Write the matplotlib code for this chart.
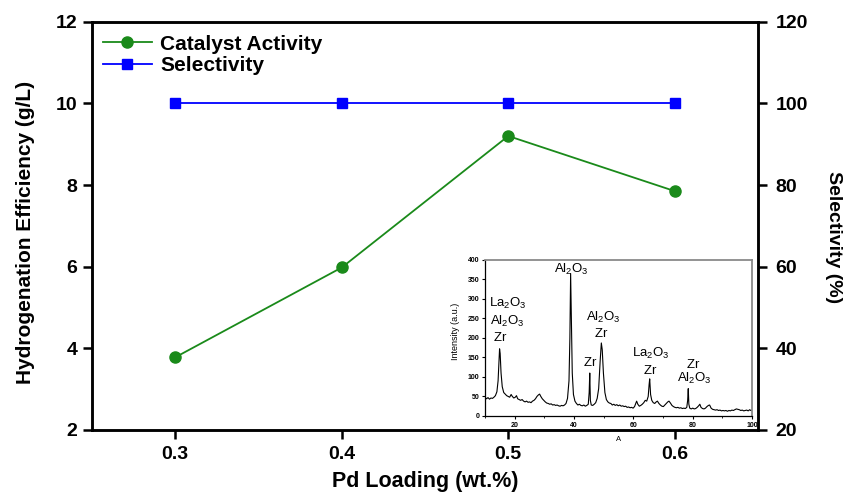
import matplotlib
matplotlib.use("Agg")
import matplotlib.pyplot as plt

plt.rcParams['font.family'] = ['Liberation Sans', 'DejaVu Sans']
plt.rcParams['mathtext.default'] = 'regular'

# Main data: Pd loading vs. activity / selectivity
pd_loading = [0.3, 0.4, 0.5, 0.6]
catalyst_activity = [3.78, 5.98, 9.20, 7.85]   # g/L
selectivity = [100, 100, 100, 100]             # %

x_ticks = [0.3, 0.4, 0.5, 0.6]
left_ticks = [2, 4, 6, 8, 10, 12]
right_ticks = [20, 40, 60, 80, 100, 120]

# XRD pattern of the catalyst (2-theta, intensity)
two_theta = [
    10.0, 10.5, 11.0, 11.5, 12.0, 12.5, 13.0, 13.5, 14.0, 14.4, 14.7, 14.9, 15.1, 15.4,
    15.8, 16.3, 16.8, 17.3, 17.8, 18.3, 18.8, 19.2, 19.7, 20.2, 20.6, 21.0, 21.5, 22.0,
    22.5, 23.0, 23.5, 24.0, 24.5, 25.0, 25.5, 26.0, 26.5, 27.0, 27.5, 28.0, 28.4, 28.8,
    29.3, 29.8, 30.3, 30.8, 31.3, 31.8, 32.3, 32.8, 33.3, 33.8, 34.3, 34.8, 35.3, 35.8,
    36.3, 36.8, 37.3, 37.8, 38.3, 38.6, 38.85, 39.1, 39.4, 39.8, 40.3, 40.8, 41.3, 41.8,
    42.3, 42.8, 43.3, 43.8, 44.3, 44.8, 45.1, 45.3, 45.5, 45.8, 46.3, 46.8, 47.3, 47.8,
    48.3, 48.8, 49.2, 49.5, 49.9, 50.4, 50.9, 51.4, 51.9, 52.4, 52.9, 53.4, 53.9, 54.4,
    54.9, 55.4, 55.9, 56.4, 56.9, 57.4, 57.9, 58.4, 58.9, 59.4, 59.9, 60.4, 60.8, 61.1,
    61.5, 62.0, 62.5, 63.0, 63.5, 64.0, 64.5, 65.0, 65.3, 65.5, 65.8, 66.2, 66.7, 67.2,
    67.7, 68.1, 68.6, 69.1, 69.6, 70.1, 70.6, 71.1, 71.6, 72.0, 72.5, 73.0, 73.5, 74.0,
    74.5, 75.0, 75.5, 76.0, 76.5, 77.0, 77.5, 78.0, 78.3, 78.5, 78.7, 79.0, 79.5, 80.0,
    80.5, 81.0, 81.5, 82.0, 82.4, 82.8, 83.3, 83.8, 84.3, 84.8, 85.3, 85.7, 86.2, 86.7,
    87.2, 87.7, 88.2, 88.7, 89.2, 89.7, 90.2, 90.7, 91.2, 91.7, 92.2, 92.7, 93.2, 93.7,
    94.2, 94.7, 95.2, 95.7, 96.2, 96.7, 97.2, 97.7, 98.2, 98.7, 99.2, 99.6, 100.0,
]
intensity = [
    48, 44, 47, 43, 46, 45, 48, 52, 62, 90, 140, 172, 160, 110,
    75, 60, 56, 52, 50, 48, 55, 50, 46, 48, 52, 44, 42, 40,
    42, 38, 36, 38, 35, 36, 34, 38, 40, 44, 50, 54, 56, 50,
    44, 40, 36, 33, 32, 30, 31, 28, 29, 27, 28, 26, 25, 27,
    26, 28, 32, 45, 90, 200, 365, 250, 110, 55, 38, 32, 28, 30,
    27, 26, 28, 25, 27, 30, 60, 110, 40, 28, 27, 30, 34, 45,
    70, 140, 187, 170, 110, 60, 42, 36, 33, 32, 28, 30, 27, 29,
    26, 28, 25, 26, 24, 25, 22, 23, 21, 22, 20, 24, 32, 38,
    30, 25, 27, 30, 34, 40, 38, 50, 80, 95, 55, 40, 34, 32,
    36, 38, 32, 28, 25, 24, 28, 32, 36, 38, 33, 27, 24, 22,
    21, 22, 20, 21, 19, 20, 19, 22, 40, 70, 30, 20, 18, 20,
    18, 19, 22, 26, 30, 22, 19, 18, 20, 24, 27, 28, 20, 17,
    16, 15, 16, 14, 15, 13, 14, 13, 14, 12, 14, 13, 15, 14,
    16, 18, 17, 16, 14, 15, 13, 14, 15, 13, 16, 14, 15,
]

# Phase labels in the XRD inset: (text, 2-theta, intensity)
phase_labels = [
    ("La_2O_3", 17.5, 289), ("Al_2O_3", 17.5, 243), ("Zr", 15.0, 200),
    ("Al_2O_3", 39.0, 375),
    ("Zr", 45.3, 136),
    ("Al_2O_3", 50.0, 252), ("Zr", 49.0, 211),
    ("La_2O_3", 66.0, 160), ("Zr", 65.6, 117),
    ("Zr", 80.0, 132), ("Al_2O_3", 80.5, 96),
]

green = '#1a8a1a'
blue = '#0000ff'

fig = plt.figure(figsize=(8.45, 4.94), dpi=100)
ax = fig.add_axes([0.1089, 0.1296, 0.7882, 0.8265])
ax2 = ax.twinx()

l1, = ax.plot(pd_loading, catalyst_activity, '-o', color=green, lw=1.3,
              markersize=8, markerfacecolor=green, markeredgecolor=green,
              label='Catalyst Activity')
l2, = ax2.plot(pd_loading, selectivity, '-s', color=blue, lw=1.3,
               markersize=7, markerfacecolor=blue, markeredgecolor=blue,
               label='Selectivity')

ax.set_xlim(0.25, 0.65)
ax.set_ylim(2, 12)
ax2.set_ylim(20, 120)
ax.set_xticks(x_ticks)
ax.set_xticklabels([f"{v:.1f}" for v in x_ticks])
ax.set_yticks(left_ticks)
ax2.set_yticks(right_ticks)

for a in (ax, ax2):
    for sp in a.spines.values():
        sp.set_linewidth(1.8)
    a.tick_params(direction='out', length=6.5, width=1.8, labelsize=14)
    for lab in a.get_xticklabels() + a.get_yticklabels():
        lab.set_fontweight('bold')
ax.tick_params(axis='x', pad=5)
ax.tick_params(axis='y', pad=4)
ax2.tick_params(axis='y', pad=6)

ax.set_xlabel('Pd Loading (wt.%)', fontsize=15.5, fontweight='bold', va='bottom')
ax.xaxis.set_label_coords(0.5, -0.152)
ax.set_ylabel('Hydrogenation Efficiency (g/L)', fontsize=15, fontweight='bold', va='center')
ax.yaxis.set_label_coords(-0.1, 0.484)
ax2.set_ylabel('Selectivity (%)', fontsize=14, fontweight='bold', rotation=270, va='center')
ax2.yaxis.set_label_coords(1.1126, 0.472)

leg = ax.legend(handles=[l1, l2], loc='upper left', bbox_to_anchor=(0.0165, 0.968),
                frameon=False, borderaxespad=0, borderpad=0, handlelength=2.35,
                handletextpad=0.4, labelspacing=0.12,
                prop={'size': 15, 'weight': 'bold'})

# XRD inset
axin = fig.add_axes([0.574, 0.158, 0.316, 0.316])
axin.plot(two_theta, intensity, color='black', lw=0.8)
axin.set_xlim(10, 100)
axin.set_ylim(0, 400)
axin.set_xticks([20, 40, 60, 80, 100])
axin.set_xticks([10, 30, 50, 70, 90], minor=True)
axin.set_yticks(range(0, 401, 50))
axin.tick_params(direction='out', length=2.5, width=0.8, labelsize=5, pad=1.5)
axin.tick_params(which='minor', direction='out', length=1.5, width=0.6)
for lab in axin.get_xticklabels() + axin.get_yticklabels():
    lab.set_fontweight('bold')
axin.spines['left'].set_linewidth(0.9)
axin.spines['bottom'].set_linewidth(0.9)
for side in ('top', 'right'):
    axin.spines[side].set_color('#8a8a8a')
    axin.spines[side].set_linewidth(1.3)
axin.set_ylabel('Intensity (a.u.)', fontsize=6.5, va='center')
axin.yaxis.set_label_coords(-0.112, 0.54)
axin.set_xlabel('A', fontsize=5.5, va='center')
axin.xaxis.set_label_coords(0.50, -0.154)

for txt, xv, yv in phase_labels:
    axin.text(xv, yv, f"${txt}$", fontsize=9.5, ha='center', va='center')

fig.savefig('out.png', dpi=100)
